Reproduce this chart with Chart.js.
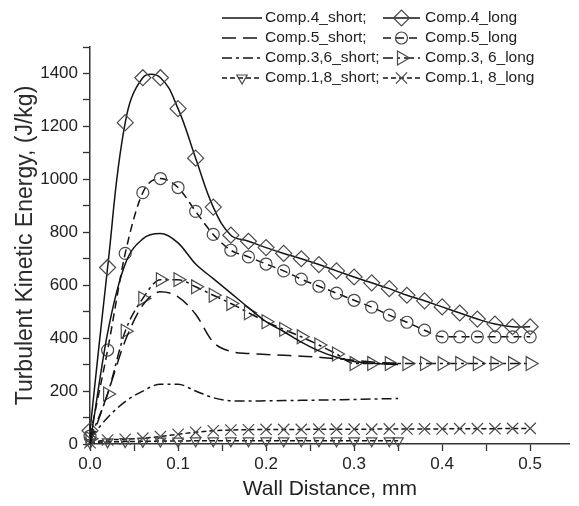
<!DOCTYPE html>
<html>
<head>
<meta charset="utf-8">
<script src="https://cdn.jsdelivr.net/npm/chart.js"></script>
<style>
  body { margin: 0; background: #fff; }
</style>
</head>
<body>
<canvas id="myChart" width="579" height="506"></canvas>
<script>
// wall distance (mm) for the "long" and "short" runs
const xLong = [0, 0.02, 0.04, 0.06, 0.08, 0.10, 0.12, 0.14, 0.16, 0.18, 0.20, 0.22, 0.24,
    0.26, 0.28, 0.30, 0.32, 0.34, 0.36, 0.38, 0.40, 0.42, 0.44, 0.46, 0.48, 0.50]
const xShort = [0, 0.02, 0.04, 0.06, 0.08, 0.10, 0.12, 0.14, 0.16, 0.18, 0.20, 0.22, 0.24,
    0.26, 0.28, 0.30, 0.32, 0.34, 0.35]

// turbulent kinetic energy, J/kg
const comp4Short = [0, 420, 680, 775, 795, 760, 680, 625, 570, 515, 462, 425, 385, 352, 328, 312, 305, 301, 300]
const comp4Long = [50, 667, 1214, 1384, 1384, 1267, 1080, 895, 789, 766, 742, 720, 700, 678, 654, 631,
    609, 587, 562, 541, 518, 495, 472, 453, 443, 443]
const comp5Short = [0, 190, 390, 525, 575, 556, 490, 385, 350, 342, 338, 335, 332, 328, 322, 316, 310, 306, 305]
const comp5Long = [30, 355, 720, 950, 1003, 969, 879, 792, 732, 707, 680, 654, 623, 596, 570, 543,
    517, 487, 460, 430, 405, 405, 405, 405, 405, 405]
const comp36Short = [20, 100, 160, 200, 226, 226, 200, 175, 163, 162, 163, 164, 165, 166, 167, 168, 170, 171, 172]
const comp36Long = [20, 189, 426, 550, 621, 621, 594, 562, 531, 496, 462, 433, 405, 374, 340, 304,
    304, 304, 304, 304, 304, 304, 304, 304, 304, 304]
const comp18Short = [5, 8, 9, 10, 11, 11, 12, 12, 12, 12, 12, 12, 12, 12, 12, 12, 12, 12, 12]
const comp18Long = [5, 15, 18, 22, 28, 37, 44, 50, 53, 54, 55, 55, 55, 56, 56, 56, 56, 57, 57, 57,
    57, 58, 58, 58, 59, 59]

const labels = ['Comp.4_short', 'Comp.4_long', 'Comp.5_short', 'Comp.5_long',
    'Comp.3,6_short', 'Comp.3, 6_long', 'Comp.1,8_short', 'Comp.1, 8_long']

const toPoints = (xs, ys) => xs.map((x, i) => ({ x: x, y: ys[i] }))

const lineColor = '#141414'
const markColor = '#4a4a4a'
const font = '"Liberation Sans", Arial, sans-serif'

const series = (label, xs, ys, dash, marker, smooth) => ({
    label: label,
    data: toPoints(xs, ys),
    borderColor: lineColor,
    borderWidth: 1.5,
    borderDash: dash,
    tension: 0.4,
    cubicInterpolationMode: smooth ? 'default' : 'monotone',
    fill: false,
    clip: false,
    pointStyle: marker ? marker.style : false,
    pointRadius: marker ? marker.radius : 0,
    pointRotation: marker ? marker.rotation || 0 : 0,
    pointBorderColor: markColor,
    pointBorderWidth: 1.2,
    pointBackgroundColor: 'rgba(0,0,0,0)'
})

const datasets = [
    series(labels[0], xShort, comp4Short, []),
    series(labels[1], xLong, comp4Long, [], { style: 'rectRot', radius: 8 }, true),
    series(labels[2], xShort, comp5Short, [14, 7]),
    series(labels[3], xLong, comp5Long, [8, 5], { style: 'circle', radius: 6 }),
    series(labels[4], xShort, comp36Short, [10, 4, 3, 4]),
    series(labels[5], xLong, comp36Long, [10, 4, 3, 4], { style: 'triangle', radius: 8, rotation: 90 }),
    series(labels[6], xShort, comp18Short, [5, 3], { style: 'triangle', radius: 6, rotation: 180 }),
    series(labels[7], xLong, comp18Long, [5, 3], { style: 'crossRot', radius: 8 })
]

// legend drawn by hand: two entries per row, like the original figure
const pairLegend = {
    id: 'pairLegend',
    afterDraw(chart) {
        const ctx = chart.ctx
        const ds = chart.data.datasets
        const drawEntry = (d, x0, x1, y) => {
            ctx.save()
            ctx.strokeStyle = d.borderColor
            ctx.lineWidth = d.borderWidth
            ctx.setLineDash(d.borderDash)
            ctx.beginPath()
            ctx.moveTo(x0, y)
            ctx.lineTo(x1, y)
            ctx.stroke()
            ctx.restore()
            if (d.pointStyle) {
                ctx.save()
                ctx.strokeStyle = d.pointBorderColor
                ctx.fillStyle = d.pointBackgroundColor
                ctx.lineWidth = d.pointBorderWidth
                Chart.helpers.drawPoint(ctx, {
                    pointStyle: d.pointStyle,
                    radius: d.pointRadius,
                    rotation: d.pointRotation,
                    borderWidth: d.pointBorderWidth
                }, (x0 + x1) / 2, y)
                ctx.restore()
            }
        }
        ctx.save()
        ctx.font = '15.5px ' + font
        ctx.fillStyle = '#222'
        ctx.textBaseline = 'middle'
        for (let row = 0; row < 4; row++) {
            const y = 18 + row * 20
            const s = ds[row * 2]
            const l = ds[row * 2 + 1]
            drawEntry(s, 222, 262, y)
            ctx.fillText(s.label + ';', 265, y)
            drawEntry(l, 383, 420, y)
            ctx.fillText(l.label, 425, y)
        }
        ctx.restore()
    }
}

const ctx = document.getElementById('myChart').getContext('2d')
new Chart(ctx, {
    type: 'line',
    data: { datasets: datasets },
    options: {
        responsive: false,
        animation: false,
        layout: { padding: { top: 47, right: 1, left: 0, bottom: 0 } },
        plugins: {
            legend: { display: false },
            tooltip: { enabled: false }
        },
        scales: {
            x: {
                type: 'linear',
                min: 0,
                max: 0.545,
                border: { color: '#333', width: 1.5 },
                grid: { drawOnChartArea: false, tickLength: 7, tickColor: '#333', tickWidth: 1.3 },
                ticks: {
                    stepSize: 0.05,
                    includeBounds: false,
                    autoSkip: false,
                    maxRotation: 0,
                    padding: 3,
                    color: '#222',
                    font: { family: font, size: 17 },
                    callback: (v) => Math.round(v * 100) % 10 === 0 ? v.toFixed(1) : ''
                },
                title: {
                    display: true,
                    text: 'Wall Distance, mm',
                    color: '#222',
                    font: { family: font, size: 21 },
                    padding: { top: 4, bottom: 4 }
                },
                afterFit: (scale) => { scale.height = 62 }
            },
            y: {
                min: 0,
                max: 1500,
                border: { color: '#333', width: 1.5 },
                grid: { drawOnChartArea: false, tickLength: 7, tickColor: '#333', tickWidth: 1.3 },
                ticks: {
                    stepSize: 100,
                    autoSkip: false,
                    padding: 5,
                    color: '#222',
                    font: { family: font, size: 17 },
                    callback: (v) => v % 200 === 0 ? v : ''
                },
                title: {
                    display: true,
                    text: 'Turbulent Kinetic Energy, (J/kg)',
                    color: '#2a2a2a',
                    font: { family: font, size: 23 },
                    padding: { top: 12, bottom: 2 }
                },
                afterFit: (scale) => { scale.width = 90 }
            }
        }
    },
    plugins: [pairLegend]
})
</script>
</body>
</html>
